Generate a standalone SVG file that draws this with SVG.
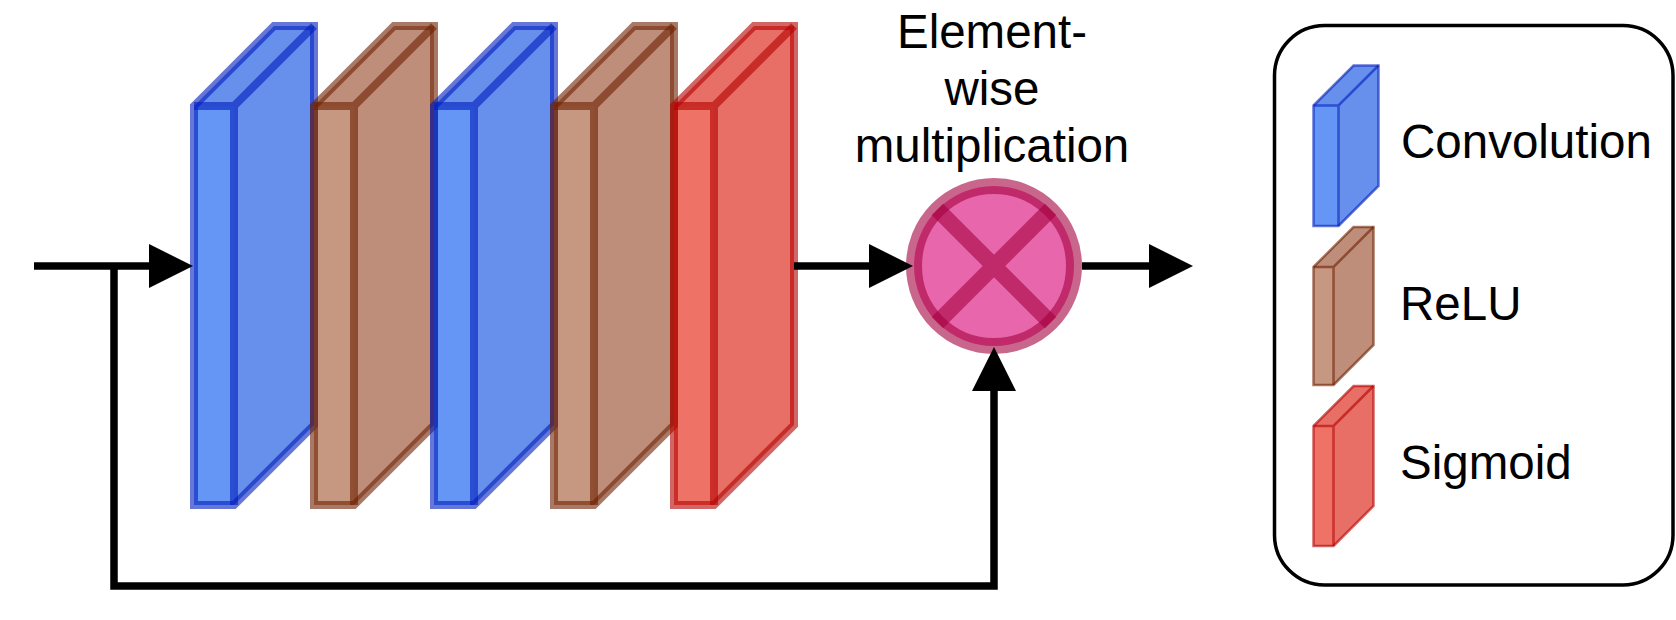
<svg xmlns="http://www.w3.org/2000/svg" width="1676" height="620" viewBox="0 0 1676 620">
<style>
  .t{font-family:"Liberation Sans",Arial,Helvetica,sans-serif;font-size:47.5px;fill:#000}
  .conv .face{fill:#0050ef;fill-opacity:.6}
  .conv .dark{fill:#0046dd;fill-opacity:.6}
  .conv .edge{stroke:#001DBC}
  .relu .face{fill:#a0522d;fill-opacity:.6}
  .relu .dark{fill:#934321;fill-opacity:.6}
  .relu .edge{stroke:#6D1F00}
  .sig .face{fill:#e51400;fill-opacity:.6}
  .sig .dark{fill:#d90f00;fill-opacity:.6}
  .sig .edge{stroke:#B20000}
  .edge{fill:none;stroke-opacity:.6;stroke-width:8}
  .small .edge{stroke-width:2.5}
  .wire{fill:none;stroke:#000;stroke-width:7.5}
</style>
<defs>
  <marker id="arr" viewBox="0 0 44 44" markerWidth="44" markerHeight="44" refX="0" refY="22" orient="auto" markerUnits="userSpaceOnUse">
    <path d="M0,0 L44,22 L0,44 Z" fill="#000"/>
  </marker>
</defs>

<!-- main blocks: x0, w=40, y0=106, y1=505, d=80 -->
<g id="conv1" class="conv">
  <rect class="face" x="194" y="106" width="40" height="399"/>
  <path class="dark" d="M234,106 L314,26 L314,425 L234,505 Z M194,106 L274,26 L314,26 L234,106 Z"/>
  <path class="edge" d="M194,106 L274,26 L314,26 L314,425 L234,505 L194,505 Z"/>
  <path class="edge" d="M194,106 L234,106 L314,26 M234,106 L234,505"/>
</g>
<g id="relu1" class="relu">
  <rect class="face" x="314" y="106" width="40" height="399"/>
  <path class="dark" d="M354,106 L434,26 L434,425 L354,505 Z M314,106 L394,26 L434,26 L354,106 Z"/>
  <path class="edge" d="M314,106 L394,26 L434,26 L434,425 L354,505 L314,505 Z"/>
  <path class="edge" d="M314,106 L354,106 L434,26 M354,106 L354,505"/>
</g>
<g id="conv2" class="conv">
  <rect class="face" x="434" y="106" width="40" height="399"/>
  <path class="dark" d="M474,106 L554,26 L554,425 L474,505 Z M434,106 L514,26 L554,26 L474,106 Z"/>
  <path class="edge" d="M434,106 L514,26 L554,26 L554,425 L474,505 L434,505 Z"/>
  <path class="edge" d="M434,106 L474,106 L554,26 M474,106 L474,505"/>
</g>
<g id="relu2" class="relu">
  <rect class="face" x="554" y="106" width="40" height="399"/>
  <path class="dark" d="M594,106 L674,26 L674,425 L594,505 Z M554,106 L634,26 L674,26 L594,106 Z"/>
  <path class="edge" d="M554,106 L634,26 L674,26 L674,425 L594,505 L554,505 Z"/>
  <path class="edge" d="M554,106 L594,106 L674,26 M594,106 L594,505"/>
</g>
<g id="sigmoid" class="sig">
  <rect class="face" x="674" y="106" width="40" height="399"/>
  <path class="dark" d="M714,106 L794,26 L794,425 L714,505 Z M674,106 L754,26 L794,26 L714,106 Z"/>
  <path class="edge" d="M674,106 L754,26 L794,26 L794,425 L714,505 L674,505 Z"/>
  <path class="edge" d="M674,106 L714,106 L794,26 M714,106 L714,505"/>
</g>

<!-- multiplication node -->
<g id="mult">
  <circle cx="994" cy="266" r="80" fill="#d80073" fill-opacity=".6" stroke="#A50040" stroke-opacity=".6" stroke-width="16"/>
  <path d="M937.4,209.4 L1050.6,322.6 M1050.6,209.4 L937.4,322.6" fill="none" stroke="#A50040" stroke-opacity=".6" stroke-width="16"/>
</g>
<g id="mult-label">
  <text class="t" x="992" y="48" text-anchor="middle">Element-</text>
  <text class="t" x="992" y="105" text-anchor="middle">wise</text>
  <text class="t" x="992" y="162" text-anchor="middle">multiplication</text>
</g>

<!-- connectors -->
<g id="connectors">
  <path class="wire" d="M34,266 L149,266" marker-end="url(#arr)"/>
  <path class="wire" d="M114,266 L114,586 L994,586 L994,391" marker-end="url(#arr)"/>
  <path class="wire" d="M794,266 L869,266" marker-end="url(#arr)"/>
  <path class="wire" d="M1082,266 L1149,266" marker-end="url(#arr)"/>
</g>

<!-- legend -->
<g id="legend">
  <rect x="1274.5" y="25.5" width="398.5" height="559.5" rx="50" ry="50" fill="#fff" stroke="#000" stroke-width="3.5"/>
</g>
<g id="legend-conv" class="conv small">
  <rect class="face" x="1313.5" y="105.5" width="25" height="120.5"/>
  <path class="dark" d="M1338.5,105.5 L1378.5,65.5 L1378.5,186 L1338.5,226 Z M1313.5,105.5 L1353.5,65.5 L1378.5,65.5 L1338.5,105.5 Z"/>
  <path class="edge" d="M1313.5,105.5 L1353.5,65.5 L1378.5,65.5 L1378.5,186 L1338.5,226 L1313.5,226 Z"/>
  <path class="edge" d="M1313.5,105.5 L1338.5,105.5 L1378.5,65.5 M1338.5,105.5 L1338.5,226"/>
  <text class="t" x="1401" y="158">Convolution</text>
</g>
<g id="legend-relu" class="relu small">
  <rect class="face" x="1313.5" y="267" width="20" height="118"/>
  <path class="dark" d="M1333.5,267 L1373.5,227 L1373.5,345 L1333.5,385 Z M1313.5,267 L1353.5,227 L1373.5,227 L1333.5,267 Z"/>
  <path class="edge" d="M1313.5,267 L1353.5,227 L1373.5,227 L1373.5,345 L1333.5,385 L1313.5,385 Z"/>
  <path class="edge" d="M1313.5,267 L1333.5,267 L1373.5,227 M1333.5,267 L1333.5,385"/>
  <text class="t" x="1400" y="320">ReLU</text>
</g>
<g id="legend-sigmoid" class="sig small">
  <rect class="face" x="1313.5" y="426" width="20" height="120"/>
  <path class="dark" d="M1333.5,426 L1373.5,386 L1373.5,506 L1333.5,546 Z M1313.5,426 L1353.5,386 L1373.5,386 L1333.5,426 Z"/>
  <path class="edge" d="M1313.5,426 L1353.5,386 L1373.5,386 L1373.5,506 L1333.5,546 L1313.5,546 Z"/>
  <path class="edge" d="M1313.5,426 L1333.5,426 L1373.5,386 M1333.5,426 L1333.5,546"/>
  <text class="t" x="1400" y="479">Sigmoid</text>
</g>
</svg>
